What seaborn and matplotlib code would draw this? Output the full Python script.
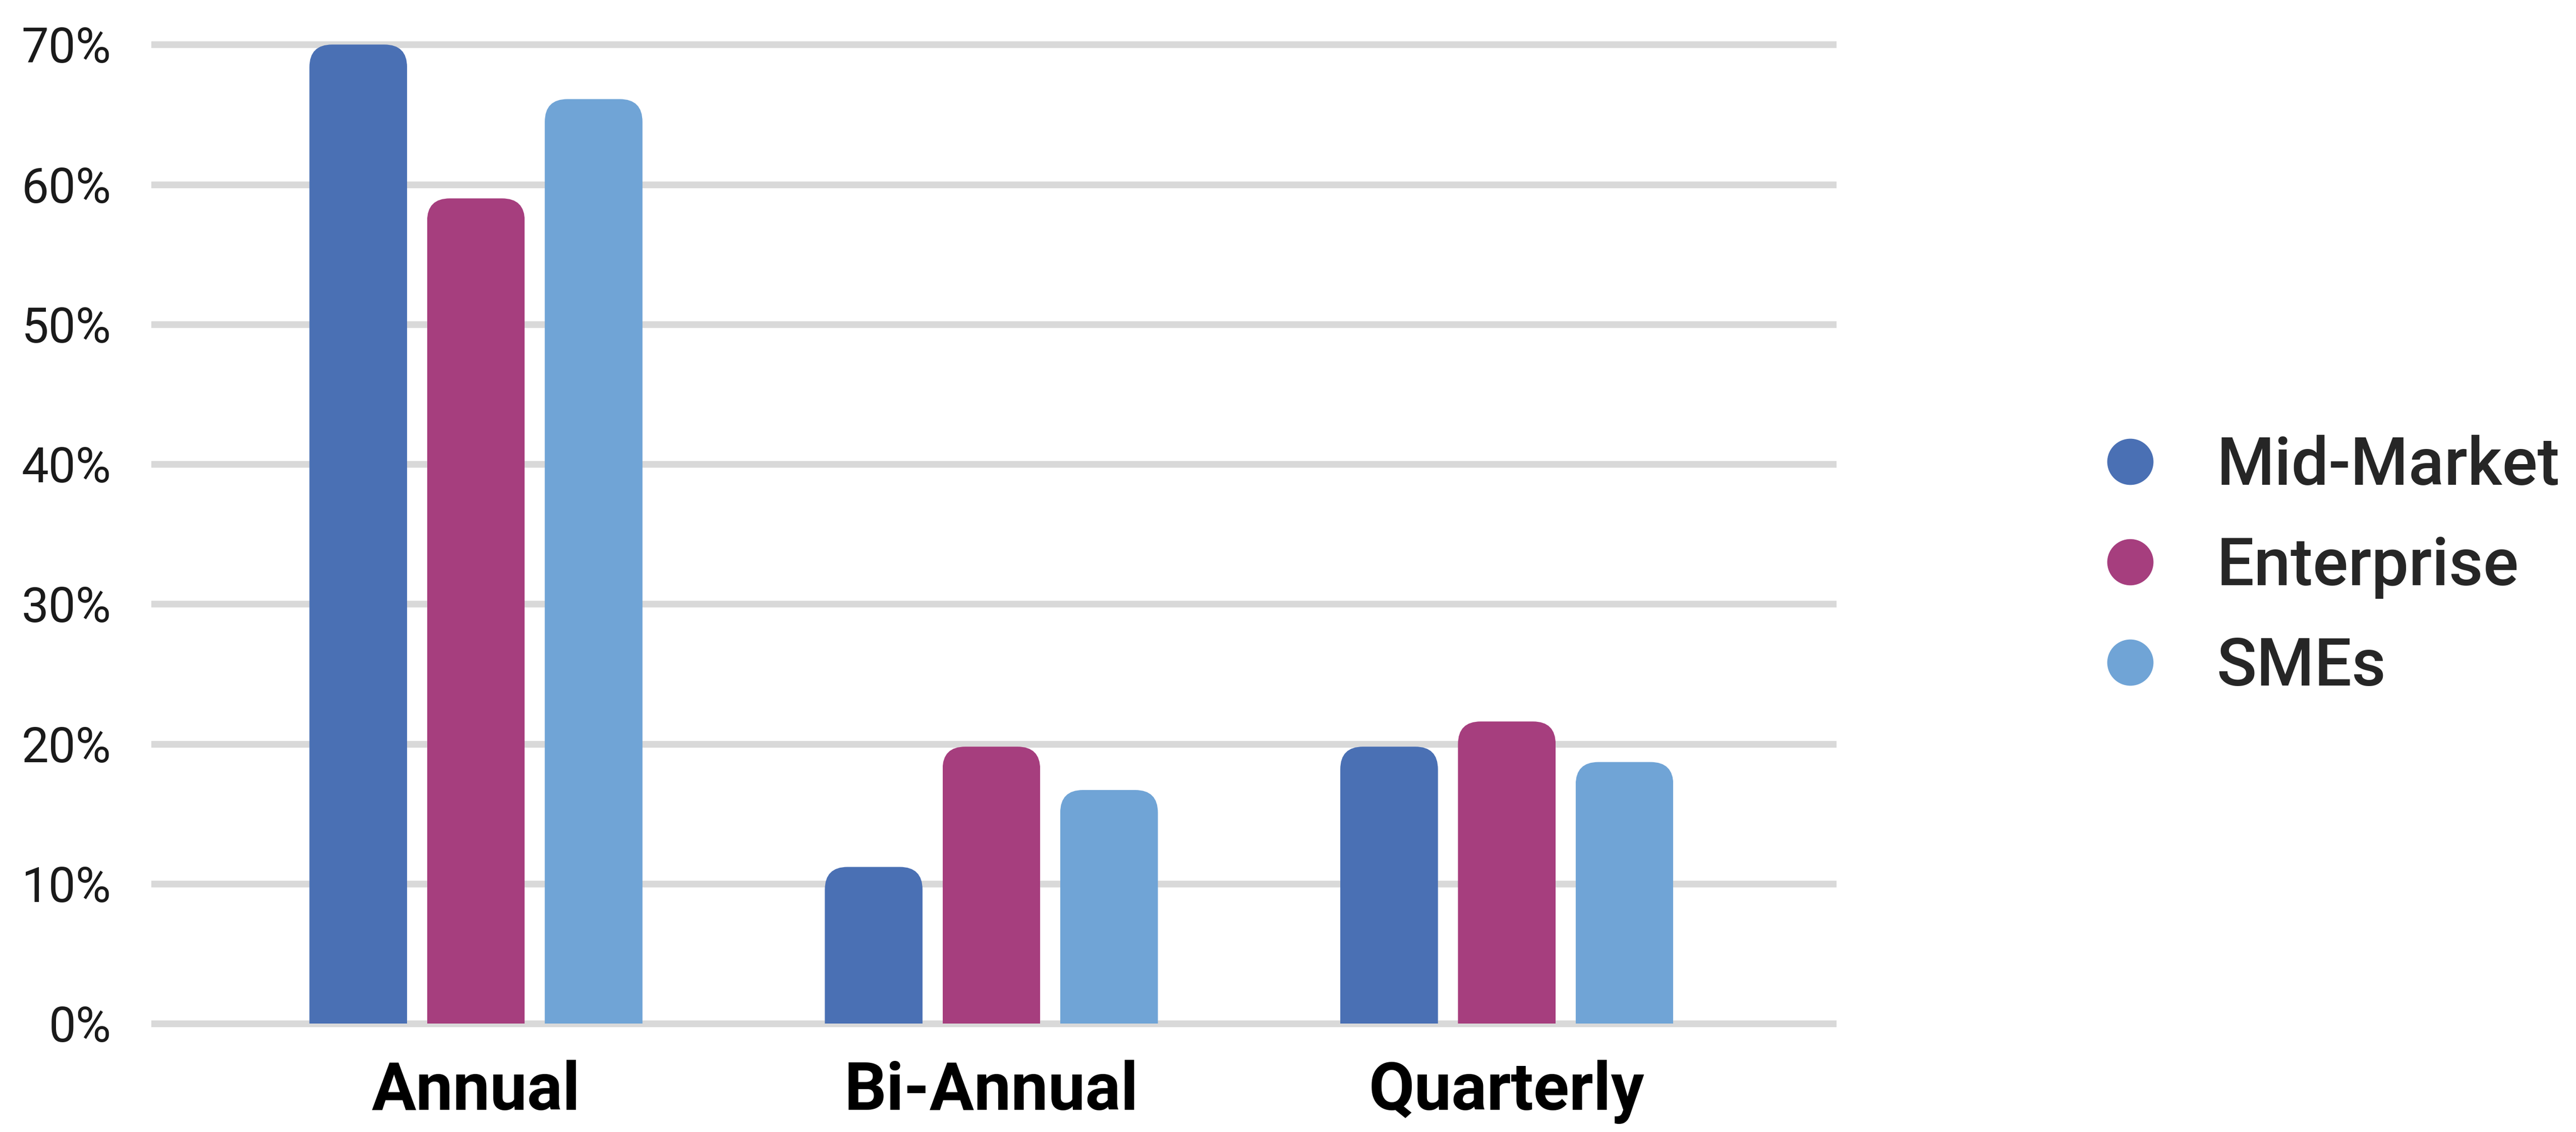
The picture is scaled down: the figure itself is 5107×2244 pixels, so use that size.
import pandas as pd
import numpy as np
import seaborn as sns
import matplotlib.pyplot as plt
from matplotlib.patches import FancyBboxPatch, Rectangle
from matplotlib.lines import Line2D

periods = ["Annual", "Bi-Annual", "Quarterly"]
segments = ["Mid-Market", "Enterprise", "SMEs"]
mid_market = [70.0, 11.2, 19.8]
enterprise = [59.0, 19.8, 21.6]
smes = [66.1, 16.7, 18.7]
colors = ["#4A70B4", "#A63E7E", "#70A4D6"]
yticks = [0, 10, 20, 30, 40, 50, 60, 70]

rows = []
for seg, vals in zip(segments, [mid_market, enterprise, smes]):
    for p, v in zip(periods, vals):
        rows.append({"period": p, "segment": seg, "share": v})
df = pd.DataFrame(rows)

sns.set_style("white")
plt.rcParams["font.family"] = ["Roboto", "DejaVu Sans"]

fig = plt.figure(figsize=(5107 / 300, 2244 / 300), dpi=300)
ax = fig.add_axes([0.0587, 0.0896, 0.6543, 0.8834])

sns.barplot(data=df, x="period", y="share", hue="segment", order=periods,
            hue_order=segments, palette=colors, saturation=1, width=0.685,
            gap=0.17, legend=False, ax=ax)

ax.set_xlim(-0.63, 2.64)
ax.set_ylim(-0.5, 71)

# swap the plain bars for ones with rounded top corners
fig.canvas.draw()
bb = ax.get_window_extent()
xpp = (2.64 + 0.63) / bb.width
ypp = 71.5 / bb.height
asp = ypp / xpp
r = 45 * xpp
for p in list(ax.patches):
    x, w, h = p.get_x(), p.get_width(), p.get_height()
    fb = FancyBboxPatch((x, -5), w, h + 5,
                        boxstyle=f"round,pad=0,rounding_size={r}",
                        mutation_aspect=asp, fc=p.get_facecolor(),
                        ec="none", zorder=2)
    ax.add_patch(fb)
    fb.set_clip_path(Rectangle((x, 0), w, 200, transform=ax.transData))
    p.remove()

ax.yaxis.grid(True, color="#D9D9D9", lw=3.2)
ax.xaxis.grid(False)
ax.set_axisbelow(True)
sns.despine(ax=ax, left=True, bottom=True)

ax.set_yticks(yticks)
ax.set_yticklabels([f"{v}%" for v in yticks], fontsize=23, color="#1a1a1a")
ax.set_xticks(range(len(periods)))
ax.set_xticklabels(periods, fontsize=31.5, fontweight="bold", color="black")
ax.tick_params(axis="y", length=0, pad=19)
ax.tick_params(axis="x", length=0, pad=14)
ax.set_xlabel("")
ax.set_ylabel("")

handles = [Line2D([], [], ls="none", marker="o", ms=22, mfc=c, mec="none")
           for c in colors]
fig.legend(handles, segments, loc="center left", bbox_to_anchor=(0.818, 0.4993),
           frameon=False, handlelength=0.7, handletextpad=0.95,
           labelspacing=0.556, borderpad=0, borderaxespad=0,
           prop={"family": "Roboto", "weight": "medium", "size": 31.5})

fig.savefig("out.png", dpi=300, facecolor="white")
